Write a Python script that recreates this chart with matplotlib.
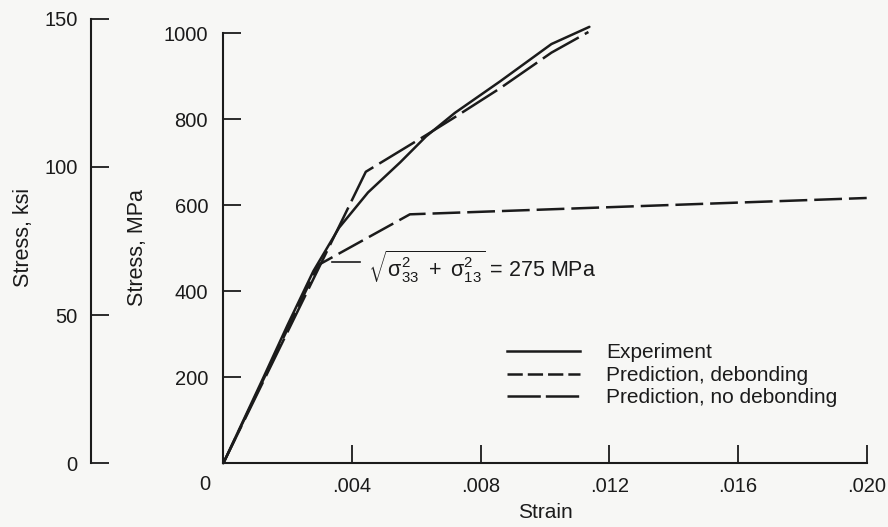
import matplotlib
matplotlib.use("Agg")
import matplotlib.pyplot as plt
from matplotlib.lines import Line2D

plt.rcParams['font.family'] = ['Liberation Sans', 'DejaVu Sans']
plt.rcParams['font.size'] = 15
plt.rcParams['mathtext.fontset'] = 'custom'
plt.rcParams['mathtext.rm'] = 'Liberation Sans'
plt.rcParams['mathtext.it'] = 'Liberation Sans:italic'
plt.rcParams['lines.scale_dashes'] = False

INK = '#1b1b1b'
PAPER = '#f7f7f5'

# Stress-strain data (strain, MPa)
strain_exp = [0, 0.0012, 0.0020, 0.0028, 0.0036, 0.0045, 0.0055, 0.0063, 0.0072, 0.0086, 0.0102, 0.01138]
stress_exp = [0, 192, 322, 447, 548, 630, 700, 760, 815, 888, 975, 1015]

strain_deb = [0, 0.00295, 0.0058, 0.020]
stress_deb = [0, 461, 579, 617]

strain_nodeb = [0, 0.00443, 0.0063, 0.0072, 0.0086, 0.0102, 0.01135]
stress_nodeb = [0, 678, 763, 805, 872, 955, 1003]

x_ticks = [0.004, 0.008, 0.012, 0.016, 0.020]
x_ticklabels = ['.004', '.008', '.012', '.016', '.020']
mpa_ticks = [200, 400, 600, 800, 1000]
ksi_ticks = [0, 50, 100, 150]
MPA_PER_KSI = 6.895

W, H = 888, 527
fig = plt.figure(figsize=(W / 100, H / 100), dpi=100, facecolor=PAPER)

# main axes in pixel layout
x0, x1 = 223.3, 866.7
y0, y1 = 463.3, 33.3
ax = fig.add_axes([x0 / W, (H - y0) / H, (x1 - x0) / W, (y0 - y1) / H])
ax.set_facecolor('none')
ax.set_xlim(0, 0.020)
ax.set_ylim(0, 1000)
for s in ('top', 'right'):
    ax.spines[s].set_visible(False)
for s in ('left', 'bottom'):
    ax.spines[s].set_linewidth(1.5)
    ax.spines[s].set_color(INK)
ax.set_xticks(x_ticks)
ax.set_xticklabels(x_ticklabels)
ax.set_yticks(mpa_ticks)
ax.tick_params(axis='both', labelsize=14.5)
ax.tick_params(axis='x', direction='in', length=13, width=1.3, pad=10, colors=INK)
ax.tick_params(axis='y', direction='in', length=13, width=1.3, pad=11, colors=INK)

lw = 1.8
ax.plot(strain_exp, stress_exp, color=INK, lw=lw, solid_capstyle='round', clip_on=False)
ax.plot(strain_deb, stress_deb, color=INK, lw=lw, linestyle=(0, (20, 5)), clip_on=False)
ax.plot(strain_nodeb, stress_nodeb, color=INK, lw=lw, linestyle=(0, (30, 5)), clip_on=False)

# failure-criterion note at the debonding onset
ax.plot([0.00337, 0.00424], [468, 468], color=INK, lw=1.2)
ax.text(0.00450, 433,
        r'$\sqrt{\mathrm{\sigma}_{33}^{2}\ +\ \mathrm{\sigma}_{13}^{2}}$ = 275 MPa',
        ha='left', va='baseline', color=INK, fontsize=15.5)

# legend with its own dash proxies
handles = [
    Line2D([], [], color=INK, lw=lw),
    Line2D([], [], color=INK, lw=lw, linestyle=(0, (11, 3.6))),
    Line2D([], [], color=INK, lw=lw, linestyle=(0, (24, 3.6))),
]
labels = ['Experiment', 'Prediction, debonding', 'Prediction, no debonding']
leg = ax.legend(handles, labels, loc='upper left',
                bbox_to_anchor=(507 / W, 1 - 343.5 / H), bbox_transform=fig.transFigure,
                frameon=False, borderpad=0, borderaxespad=0, fontsize=15,
                handlelength=3.5, handletextpad=1.25, labelspacing=0.16)
for t in leg.get_texts():
    t.set_color(INK)

# secondary stress scale in ksi
ky0 = y0
ky1 = y0 - (y0 - y1) * (150 * MPA_PER_KSI / 1000)
axk = fig.add_axes([91 / W, (H - ky0) / H, 0.001, (ky0 - ky1) / H])
axk.set_facecolor('none')
axk.set_ylim(0, 150)
for s in ('top', 'right', 'bottom'):
    axk.spines[s].set_visible(False)
axk.spines['left'].set_linewidth(1.5)
axk.spines['left'].set_color(INK)
axk.set_xticks([])
axk.set_yticks(ksi_ticks)
axk.tick_params(axis='y', labelsize=14.5, direction='in', length=13, width=1.3, pad=9.5, colors=INK)

# axis titles and origin label
fig.text(23 / W, 1 - 237 / H, 'Stress, ksi', rotation=90, ha='center', va='center', color=INK, fontsize=15.5)
fig.text(138 / W, 1 - 248 / H, 'Stress, MPa', rotation=90, ha='center', va='center', color=INK, fontsize=15.5)
fig.text(545 / W, 1 - 512 / H, 'Strain', ha='center', va='center', color=INK, fontsize=15)
fig.text(205 / W, 1 - 485 / H, '0', ha='center', va='center', color=INK, fontsize=14.5)

fig.savefig('out.png', dpi=100, facecolor=PAPER)
